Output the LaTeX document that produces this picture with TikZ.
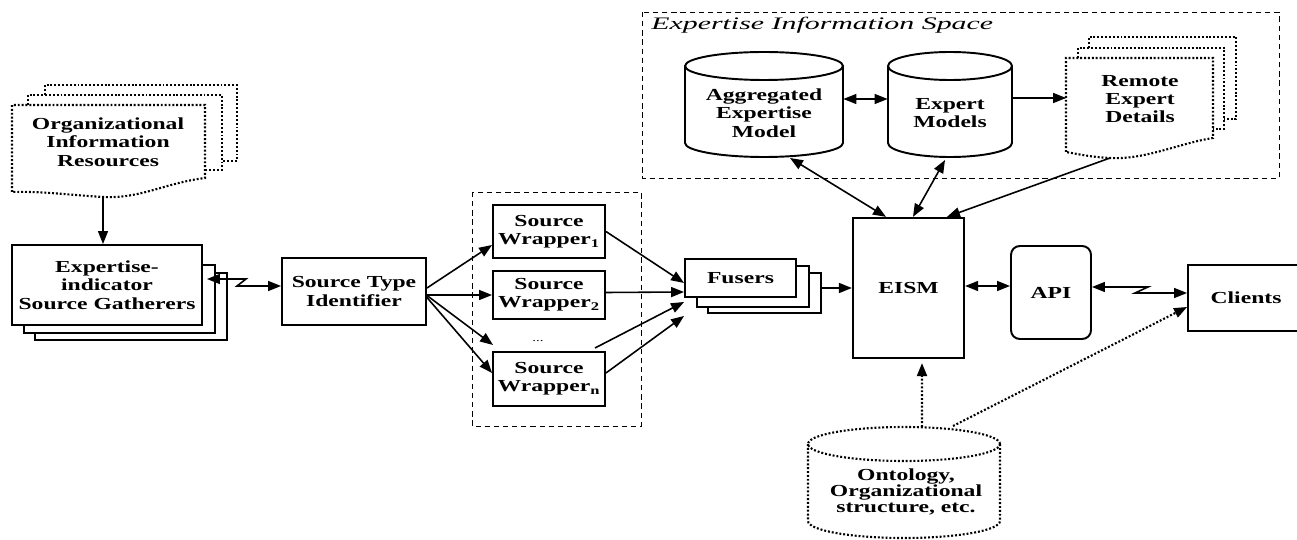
\documentclass[tikz,border=0pt]{standalone}
\usepackage{fontspec}
\newfontfamily\lblfont[FakeStretch=1.4]{Liberation Serif}
\newfontfamily\ttlfont[FakeStretch=1.7]{Liberation Serif}
\usetikzlibrary{arrows.meta}

\begin{document}
\begin{tikzpicture}[x=0.02cm, y=-0.02cm,
  box/.style={draw, line width=1.1pt, align=center, inner sep=0pt, font=\lblfont\fontsize{9.6}{10.4}\selectfont\bfseries},
  lbl/.style={align=center, inner sep=0pt, font=\lblfont\fontsize{9.6}{10.4}\selectfont\bfseries},
  arr/.style={-{Triangle[length=0.26cm,width=0.2cm]}, line width=0.9pt},
  dbl/.style={{Triangle[length=0.26cm,width=0.2cm]}-{Triangle[length=0.26cm,width=0.2cm]}, line width=0.9pt},
  dotline/.style={line width=1.2pt, dash pattern=on 1.1pt off 1.1pt},
  dotarr/.style={arr, line width=1.2pt, dash pattern=on 1.1pt off 1.1pt},
  cyl/.style={line width=1.1pt},
  back/.style={line width=0.8pt},
  dashbox/.style={line width=0.5pt, dash pattern=on 3pt off 2.2pt}]
  \useasboundingbox (0,0) rectangle (1297,540);

  %% Organizational resources (dotted document stack)
  \draw[dotline] (45,95) -- (45,85) -- (237,85) -- (237,161) -- (222,161);
  \draw[dotline] (28,105) -- (28,95) -- (222,95) -- (222,170) -- (205,170);
  \draw[dotline] (12,192) -- (12,105) -- (205,105) -- (205,178) .. controls (165,183) and (140,199) .. (103,197) .. controls (70,195) and (40,191) .. (12,192);
  \node[lbl] (org) at (108,142) {Organizational\\Information\\Resources};
  \coordinate (orgbot) at (103,196);

  %% Gatherers
  \draw[back] (35,333) -- (35,340) -- (227,340) -- (227,273) -- (215,273);
  \draw[back] (24,325) -- (24,333) -- (215,333) -- (215,265) -- (202,265);
  \node[box, minimum width=3.8cm, minimum height=1.6cm] (gath) at (107,285) {Expertise-\\indicator\\Source Gatherers};

  %% Source type identifier and wrappers
  \node[box, minimum width=2.88cm, minimum height=1.34cm] (sti) at (354,291.5) {Source Type\\Identifier};
  \draw[dashbox] (472,192) rectangle (641,426);
  \node[box, minimum width=2.24cm, minimum height=1.06cm] (sw1) at (549,231.5) {Source\\Wrapper\textsubscript{1}};
  \node[box, minimum width=2.24cm, minimum height=0.95cm] (sw2) at (549,295) {Source\\Wrapper\textsubscript{2}};
  \node[lbl, font=\lblfont\fontsize{6}{6}\selectfont] (dots) at (538,341) {...};
  \node[box, minimum width=2.24cm, minimum height=1.08cm] (swn) at (549,379) {Source\\Wrapper\textsubscript{n}};
  \coordinate (dotsin) at (493,345);
  \coordinate (dotsout) at (595,348);

  %% Fusers
  \draw[back] (708,307) -- (708,313) -- (821,313) -- (821,273) -- (809,273);
  \draw[back] (697,297) -- (697,307) -- (809,307) -- (809,266) -- (796,266);
  \node[box, minimum width=2.22cm, minimum height=0.76cm] (fus) at (740.5,278) {Fusers};
  \coordinate (fusback) at (821,288);

  %% EISM, API, Clients
  \node[box, line width=1.3pt, minimum width=2.22cm, minimum height=2.8cm] (eism) at (908.5,288) {EISM};
  \node[box, rounded corners=5pt, minimum width=1.6cm, minimum height=1.86cm] (api) at (1051,292.5) {API};
  \node[box, minimum width=2.32cm, minimum height=1.32cm] (cli) at (1246,298) {Clients};

  %% Expertise information space
  \draw[dashbox] (642,12) rectangle (1279,178);
  \node[anchor=west, inner sep=0pt, font=\ttlfont\itshape\fontsize{10}{12}\selectfont] (eisp) at (651,25) {Expertise Information Space};
  \draw[cyl] (685,66) -- (685,143) arc[start angle=180, end angle=360, x radius=1.58cm, y radius=0.28cm] -- (843,66);
  \draw[cyl] (764,66) ellipse [x radius=1.58cm, y radius=0.28cm];
  \node[lbl, minimum width=3.16cm] (aem) at (764,113) {Aggregated\\Expertise\\Model};
  \draw[cyl] (888,66) -- (888,143) arc[start angle=180, end angle=360, x radius=1.24cm, y radius=0.28cm] -- (1012,66);
  \draw[cyl] (950,66) ellipse [x radius=1.24cm, y radius=0.28cm];
  \node[lbl, minimum width=2.48cm] (em) at (950,113) {Expert\\Models};
  \draw[dotline] (1089,48) -- (1089,37) -- (1236,37) -- (1236,119) -- (1224,119);
  \draw[dotline] (1078,58) -- (1078,48) -- (1224,48) -- (1224,129) -- (1213,129);
  \draw[dotline] (1066,152) -- (1066,58) -- (1213,58) -- (1213,138) .. controls (1180,143) and (1145,160) .. (1110,158) .. controls (1090,157) and (1078,154) .. (1066,152);
  \node[lbl, minimum width=2.94cm] (red) at (1140,99) {Remote\\Expert\\Details};
  \coordinate (aembot) at (790,158);
  \coordinate (embot) at (945,160);
  \coordinate (redbot) at (1110,158);

  %% Ontology
  \draw[dotline] (808,444) -- (808,521) arc[start angle=180, end angle=360, x radius=1.92cm, y radius=0.34cm] -- (1000,444);
  \draw[dotline] (904,444) ellipse [x radius=1.92cm, y radius=0.34cm];
  \node[lbl, font=\lblfont\fontsize{9.6}{9}\selectfont\bfseries] (onto) at (906,492) {Ontology,\\Organizational\\structure, etc.};
  \coordinate (ontotop) at (922,427);
  \coordinate (ontoright) at (953,426);

  %% Connectors
  \draw[arr] (orgbot) -- (orgbot |- gath.north);
  \draw[dbl] ([xshift=0.08cm,yshift=0.12cm]gath.east) -- (246,279) -- (237,286) -- ([yshift=0.11cm]sti.west);
  \draw[arr] ([yshift=0.07cm]sti.east) -- ([yshift=-0.27cm]sw1.west);
  \draw[arr] (sti.east |- sw2.west) -- (sw2.west);
  \draw[arr] ([yshift=-0.08cm]sti.east) -- (dotsin);
  \draw[arr] ([yshift=-0.12cm]sti.east) -- ([yshift=0.12cm]swn.west);
  \draw[arr] (sw1.east) -- ([yshift=-0.1cm]fus.west);
  \draw[arr] ([yshift=0.05cm]sw2.east) -- ([yshift=-0.28cm]fus.west);
  \draw[arr] (dotsout) -- ([yshift=-0.48cm]fus.west);
  \draw[arr] ([yshift=0.12cm]swn.east) -- ([yshift=-0.76cm]fus.west);
  \draw[arr] (fusback) -- (fusback -| eism.west);
  \draw[dbl] ([yshift=0.04cm]eism.east) -- ([yshift=0.04cm]eism.east -| api.west);
  \draw[dbl] ([yshift=0.11cm]api.east) -- (1148,287) -- (1135,293) -- ([yshift=0.1cm]cli.west);
  \draw[dbl, line width=0.6pt] ([yshift=0.28cm]aem.east) -- ([yshift=0.28cm]em.west);
  \draw[arr, line width=0.6pt] ([yshift=0.3cm]em.east) -- ([yshift=0.3cm]em.east -| red.west);
  \draw[dbl] (aembot) -- ([xshift=-0.45cm]eism.north);
  \draw[dbl] (embot) -- ([xshift=0.09cm]eism.north);
  \draw[arr] (redbot) -- ([xshift=0.77cm]eism.north);
  \draw[dotarr] (ontotop) -- ([xshift=0.27cm,yshift=-0.08cm]eism.south);
  \draw[dotarr] (ontoright) -- ([yshift=-0.18cm]cli.west);
\end{tikzpicture}
\end{document}
